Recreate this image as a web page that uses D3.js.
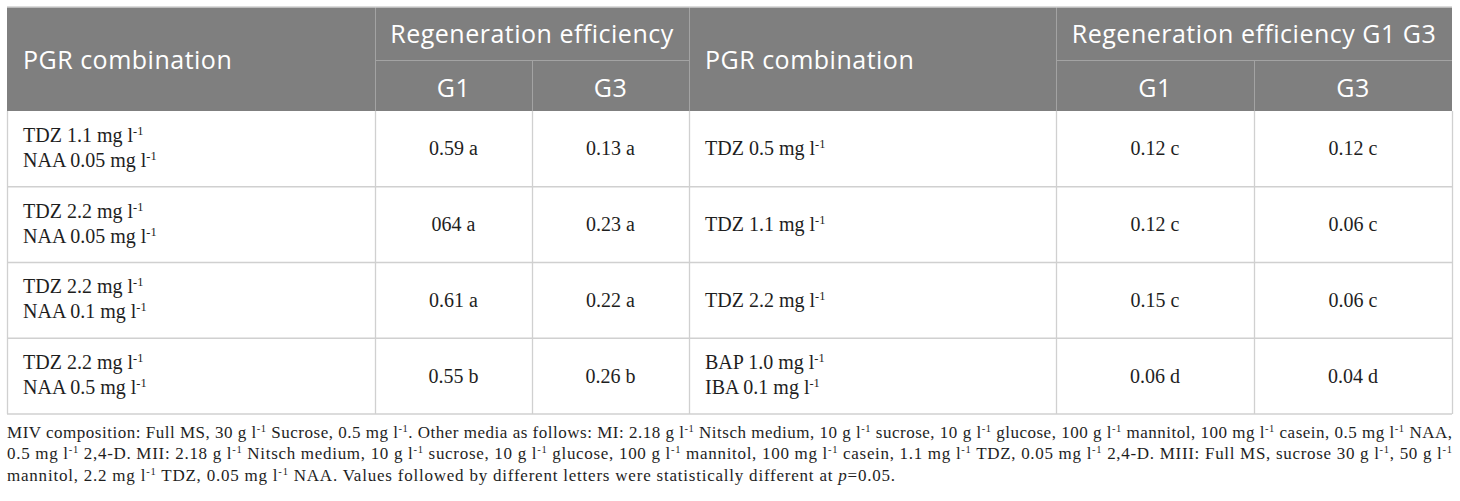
<!DOCTYPE html>
<html>
<head lang="en">
    <meta charset="UTF-8">
    <title></title>
    <script src="https://cdnjs.cloudflare.com/ajax/libs/d3/7.8.5/d3.min.js"></script>
    <style>
        body { margin: 0; background: #fff; }
    </style>
</head>
<body>

<script>

    // table content, "^{-1}" marks a superscript, "*p*" marks italic
    var pgrLeft = [
        ["TDZ 1.1 mg l^{-1}", "NAA 0.05 mg l^{-1}"],
        ["TDZ 2.2 mg l^{-1}", "NAA 0.05 mg l^{-1}"],
        ["TDZ 2.2 mg l^{-1}", "NAA 0.1 mg l^{-1}"],
        ["TDZ 2.2 mg l^{-1}", "NAA 0.5 mg l^{-1}"]
    ];
    var g1Left = ["0.59 a", "064 a", "0.61 a", "0.55 b"];
    var g3Left = ["0.13 a", "0.23 a", "0.22 a", "0.26 b"];

    var pgrRight = [
        ["TDZ 0.5 mg l^{-1}"],
        ["TDZ 1.1 mg l^{-1}"],
        ["TDZ 2.2 mg l^{-1}"],
        ["BAP 1.0 mg l^{-1}", "IBA 0.1 mg l^{-1}"]
    ];
    var g1Right = ["0.12 c", "0.12 c", "0.15 c", "0.06 d"];
    var g3Right = ["0.12 c", "0.06 c", "0.06 c", "0.04 d"];

    var headTop = ["PGR combination", "Regeneration efficiency", "PGR combination", "Regeneration efficiency G1 G3"];
    var headSub = ["G1", "G3", "G1", "G3"];

    var footnote = [
        "MIV composition: Full MS, 30 g l^{-1} Sucrose, 0.5 mg l^{-1}. Other media as follows: MI: 2.18 g l^{-1} Nitsch medium, 10 g l^{-1} sucrose, 10 g l^{-1} glucose, 100 g l^{-1} mannitol, 100 mg l^{-1} casein, 0.5 mg l^{-1} NAA,",
        "0.5 mg l^{-1} 2,4-D. MII: 2.18 g l^{-1} Nitsch medium, 10 g l^{-1} sucrose, 10 g l^{-1} glucose, 100 g l^{-1} mannitol, 100 mg l^{-1} casein, 1.1 mg l^{-1} TDZ, 0.05 mg l^{-1} 2,4-D. MIII: Full MS, sucrose 30 g l^{-1}, 50 g l^{-1}",
        "mannitol, 2.2 mg l^{-1} TDZ, 0.05 mg l^{-1} NAA. Values followed by different letters were statistically different at *p*=0.05."
    ];

    var width = 1460;
    var height = 501;

    // layout
    var left = 7, right = 1452;
    var colEdges = [left, 375, 532, 689, 1056, 1254, right];
    var headY0 = 7, headMid = 60, headY1 = 111, bodyY1 = 414;
    var lastFootWidth = 888;   // the last footnote line is not justified

    var serif = "'Liberation Serif', 'Times New Roman', serif";
    var sans = "'Open Sans', 'Noto Sans', sans-serif";

    var canvas = d3.select("body")
            .append("svg")
            .attr("width", width)
            .attr("height", height);

    var rowScale = d3.scaleBand()
            .domain(d3.range(pgrLeft.length))
            .range([headY1, bodyY1]);

    // writes a string with superscripts / italics into a text element
    function rich(sel, str) {
        var parts = str.split(/(\^\{[^}]*\}|\*[^*]+\*)/);
        parts.forEach(function(p){
            if (!p) return;
            if (p.charAt(0) === "^") {
                sel.append("tspan")
                        .attr("font-size", "0.62em")
                        .attr("baseline-shift", "55%")
                        .text(p.slice(2, -1));
            } else if (p.charAt(0) === "*") {
                sel.append("tspan").attr("font-style", "italic").text(p.slice(1, -1));
            } else {
                sel.append("tspan").text(p);
            }
        });
    }

    // header background
    canvas.append("rect")
            .attr("x", left).attr("y", headY0)
            .attr("width", right - left).attr("height", headY1 - headY0)
            .attr("fill", "#7f7f7f");

    // header separators
    var headLines = canvas.append("g").attr("stroke", "#a3a3a3").attr("stroke-width", 1);
    [1, 3, 4].forEach(function(i){
        headLines.append("line")
                .attr("x1", colEdges[i] + 0.5).attr("x2", colEdges[i] + 0.5)
                .attr("y1", headY0).attr("y2", headY1);
    });
    [2, 5].forEach(function(i){
        headLines.append("line")
                .attr("x1", colEdges[i] + 0.5).attr("x2", colEdges[i] + 0.5)
                .attr("y1", headMid).attr("y2", headY1);
    });
    [[1, 3], [4, 6]].forEach(function(r){
        headLines.append("line")
                .attr("x1", colEdges[r[0]]).attr("x2", colEdges[r[1]])
                .attr("y1", headMid + 0.5).attr("y2", headMid + 0.5);
    });

    // header texts
    var headG = canvas.append("g")
            .attr("fill", "#fff")
            .attr("font-family", sans)
            .attr("font-size", 25)
            .attr("letter-spacing", 0.5);

    [0, 3].forEach(function(c, k){
        headG.append("text")
                .attr("x", colEdges[c] + 16)
                .attr("y", 69)
                .text(headTop[k * 2]);
        headG.append("text")
                .attr("x", (colEdges[c + 1] + colEdges[c + 3]) / 2)
                .attr("y", 43)
                .attr("text-anchor", "middle")
                .text(headTop[k * 2 + 1]);
    });
    [1, 2, 4, 5].forEach(function(c, i){
        headG.append("text")
                .attr("x", (colEdges[c] + colEdges[c + 1]) / 2)
                .attr("y", 97)
                .attr("text-anchor", "middle")
                .text(headSub[i]);
    });

    // body grid
    var grid = canvas.append("g").attr("stroke", "#d0d0d0").attr("stroke-width", 1.3);
    d3.range(pgrLeft.length).forEach(function(i){
        var y = rowScale(i) + rowScale.bandwidth();
        grid.append("line")
                .attr("x1", left).attr("x2", right)
                .attr("y1", y).attr("y2", y);
    });
    colEdges.forEach(function(x){
        grid.append("line")
                .attr("x1", x + 0.5).attr("x2", x + 0.5)
                .attr("y1", headY1).attr("y2", bodyY1);
    });
    grid.append("line").attr("x1", left).attr("x2", right).attr("y1", headY0).attr("y2", headY0);

    // body cells
    var body = canvas.append("g")
            .attr("fill", "#1e1e1e")
            .attr("font-family", serif)
            .attr("font-size", 20);

    function pgrCells(data, x) {
        data.forEach(function(lines, i){
            var cy = rowScale(i) + rowScale.bandwidth() / 2;
            lines.forEach(function(line, j){
                var off = lines.length > 1 ? 5.5 : 6.5;
                var t = body.append("text")
                        .attr("x", x)
                        .attr("y", cy + off + (j - (lines.length - 1) / 2) * 25);
                rich(t, line);
            });
        });
    }

    function valueCells(data, c) {
        body.selectAll(null)
                .data(data)
                .enter()
                .append("text")
                .attr("x", (colEdges[c] + colEdges[c + 1]) / 2)
                .attr("y", function(d, i){
                    return rowScale(i) + rowScale.bandwidth() / 2 + 6.5;
                })
                .attr("text-anchor", "middle")
                .text(function(d){ return d; });
    }

    pgrCells(pgrLeft, colEdges[0] + 16);
    valueCells(g1Left, 1);
    valueCells(g3Left, 2);
    pgrCells(pgrRight, colEdges[3] + 16);
    valueCells(g1Right, 4);
    valueCells(g3Right, 5);

    // footnote, first lines justified
    var foot = canvas.append("g")
            .attr("fill", "#1e1e1e")
            .attr("font-family", serif)
            .attr("font-size", 17);

    footnote.forEach(function(line, i){
        var t = foot.append("text")
                .attr("x", left)
                .attr("y", 437.5 + i * 21.5)
                .attr("lengthAdjust", "spacing")
                .attr("textLength", i < footnote.length - 1 ? right - left : lastFootWidth);
        rich(t, line);
    });

</script>

</body>
</html>
